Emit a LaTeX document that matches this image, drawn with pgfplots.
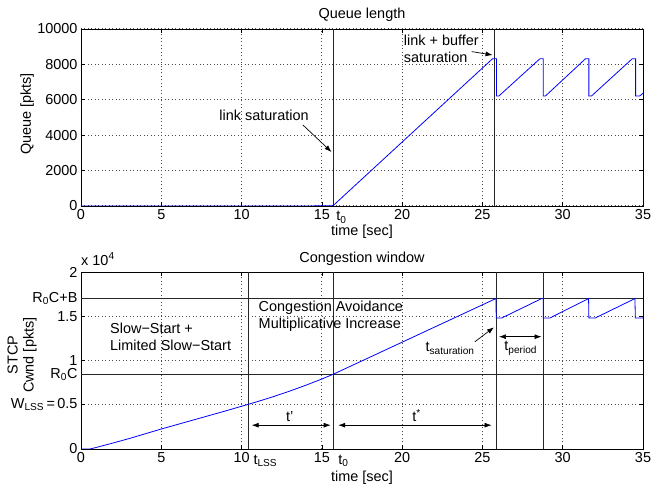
\documentclass[border=0pt]{standalone}
\usepackage{pgfplots}
\pgfplotsset{compat=1.18}
\usepackage{fontspec}
\setmainfont{Liberation Sans}
\usetikzlibrary{arrows.meta}
\tikzset{
 arr/.style={-{Latex[length=7bp,width=5bp]}, line width=0.7pt},
 darr/.style={{Latex[length=7bp,width=5bp]}-{Latex[length=7bp,width=5bp]}, line width=0.7pt},
}
\begin{document}
\begin{tikzpicture}[font=\fontsize{14.5}{17}\selectfont]
\path[use as bounding box] (0,0) rectangle (651bp,489bp);
\pgfplotsset{
 mystyle/.style={
  scale only axis, width=562bp, height=177bp, anchor=south west,
  xmin=0, xmax=35, xtick={0,5,...,35},
  scaled x ticks=false, scaled y ticks=false,
  xmajorgrids=true, ymajorgrids=true,
  major grid style={black!70, line width=1pt, dash pattern=on 1pt off 2.5pt},
  major tick length=4bp, tick style={black, line width=0.6pt},
  axis line style={black, line width=0.8pt},
  clip mode=individual,
  /pgf/number format/assume math mode=true,
  tick label style={font=\fontsize{14.5}{17}\selectfont},
 },
 vline/.style={black!85, line width=0.8pt, forget plot},
 blueline/.style={blue, line width=0.8pt, forget plot},
}
% ---------------- Top axis ----------------
\begin{axis}[mystyle, at={(81bp,283bp)},
  ymin=0, ymax=10000, ytick={0,2000,4000,6000,8000,10000},
  yticklabels={0,2000,4000,6000,8000,10000},
  ylabel={Queue [pkts]},
  ylabel style={at={(axis description cs:-0.096,0.52)}, anchor=center}]
\addplot[vline] coordinates {(15.7,0) (15.7,10000)};
\addplot[vline] coordinates {(25.72,0) (25.72,10000)};
\addplot[blueline] coordinates {
 (0,0) (14,0) (15.7,20) (25.63,8320) (25.88,8320) (25.88,6220) (26.03,6220)
 (28.58,8320) (28.79,8320) (28.79,6220) (28.93,6220)
 (31.42,8320) (31.63,8320) (31.63,6220) (31.80,6220)
 (34.33,8320) (34.54,8320) (34.54,6220) (34.80,6220) (35,6370)};
\node[anchor=base, inner sep=0pt, yshift=10bp] at (rel axis cs:0.5,1) {Queue length};
\node[anchor=base, inner sep=0pt, yshift=-30bp] at (rel axis cs:0.5,0) {time [sec]};
\node[anchor=center] at (axis cs:11.4,5100) {link saturation};
\draw[arr] (axis cs:13.82,4576) -- (axis cs:15.6,3051);
\node[anchor=west, align=left, inner sep=0pt] at (axis cs:20.1,8860) {link + buffer\\saturation};
\draw[arr] (axis cs:24.33,8723) -- (axis cs:25.63,8531);
\node[anchor=base west, inner sep=0pt, xshift=3bp, yshift=-15bp] at (axis cs:15.7,0) {t\textsubscript{0}};
\end{axis}
% ---------------- Bottom axis ----------------
\begin{axis}[mystyle, at={(81bp,40bp)},
  ymin=0, ymax=20000, ytick={0,5000,10000,15000,20000},
  yticklabels={0,{W\textsubscript{LSS}\,=\,0.5},1,1.5,2},
  extra y ticks={8440,17000},
  extra y tick labels={{R\textsubscript{0}C},{R\textsubscript{0}C+B}},
  extra y tick style={grid=none, major tick length=0pt},
  ylabel={STCP\\Cwnd [pkts]},
  ylabel style={at={(axis description cs:-0.105,0.53)}, anchor=center, align=center, font=\fontsize{14.5}{16}\selectfont}]
\addplot[vline] coordinates {(0,8440) (35,8440)};
\addplot[vline] coordinates {(0,17000) (35,17000)};
\addplot[vline] coordinates {(10.42,0) (10.42,20000)};
\addplot[vline] coordinates {(15.7,0) (15.7,20000)};
\addplot[vline] coordinates {(25.84,0) (25.84,20000)};
\addplot[vline] coordinates {(28.79,0) (28.79,20000)};
\addplot[blueline] coordinates {
 (0,0) (0.56,0) (1,200) (2,680) (3,1180) (5,2260) (7,3280) (9,4300) (10.42,5050)
 (11,5360) (12,5929) (13,6543) (14,7204) (15,7909) (15.7,8440)
 (25.84,17000) (25.86,14800) (26.2,14800) (28.69,17000) (28.79,17000) (28.79,14800)
 (29.2,14800) (31.61,17000) (31.63,14800) (32.02,14800) (34.5,17000) (34.52,14800) (35,14800)};
\node[anchor=base, inner sep=0pt, yshift=10bp] at (rel axis cs:0.5,1) {Congestion window};
\node[anchor=base, inner sep=0pt, yshift=-32bp] at (rel axis cs:0.5,0) {time [sec]};
\node[anchor=west, align=left] at (axis cs:1.6,12700) {Slow\textminus Start +\\Limited Slow\textminus Start};
\node[anchor=west, align=left] at (axis cs:10.85,14955) {Congestion Avoidance\\Multiplicative Increase};
\draw[darr] (axis cs:10.63,2690) -- (axis cs:15.55,2690);
\node[anchor=base, inner sep=0pt] at (axis cs:13.0,3100) {t’};
\draw[darr] (axis cs:16.02,2690) -- (axis cs:25.57,2690);
\node[anchor=base, inner sep=0pt] at (axis cs:20.9,3100) {t\textsuperscript{*}};
\node[anchor=base west, inner sep=0pt] at (axis cs:21.45,11000) {t\textsubscript{saturation}};
\draw[arr] (axis cs:24.53,12120) -- (axis cs:25.72,13750);
\draw[darr] (axis cs:26.03,12690) -- (axis cs:28.68,12690);
\node[anchor=base west, inner sep=0pt] at (axis cs:26.36,11100) {t\textsubscript{period}};
\node[anchor=base west, inner sep=0pt, xshift=5bp, yshift=-15bp] at (axis cs:10.42,0) {t\textsubscript{LSS}};
\node[anchor=base west, inner sep=0pt, xshift=5bp, yshift=-15bp] at (axis cs:15.7,0) {t\textsubscript{0}};
\node[anchor=base west, inner sep=0pt, yshift=7bp] at (rel axis cs:0,1) {x 10\textsuperscript{4}};
\end{axis}
\end{tikzpicture}
\end{document}
